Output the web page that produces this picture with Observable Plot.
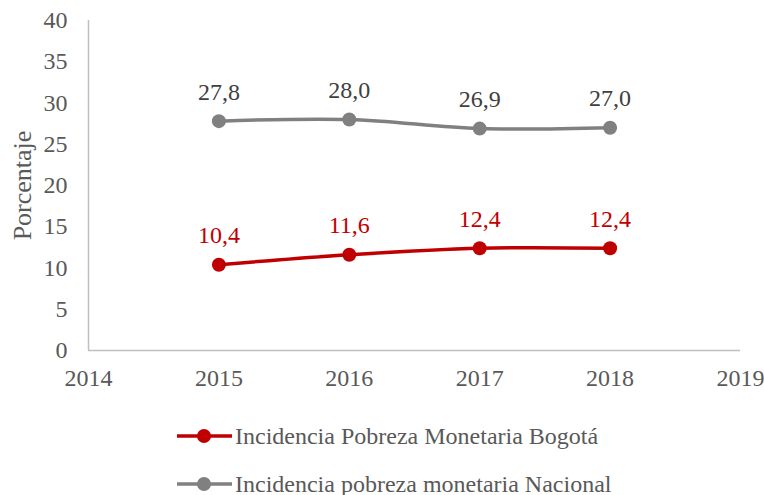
<!DOCTYPE html>
<html><head><meta charset="utf-8">
<script src="https://cdn.jsdelivr.net/npm/d3@7"></script>
<script src="https://cdn.jsdelivr.net/npm/@observablehq/plot@0.6"></script>
</head>
<body style="margin:0;background:#fff;font-family:'Liberation Serif'">
<div id="chart" style="position:relative;width:764px;height:495px;overflow:hidden;font-family:'Liberation Serif'"></div>
<script>
const years = [2015, 2016, 2017, 2018];
const bogota = [10.4, 11.6, 12.4, 12.4];
const nacional = [27.8, 28.0, 26.9, 27.0];
const seriesNames = ["Incidencia Pobreza Monetaria Bogotá", "Incidencia pobreza monetaria Nacional"];
const seriesColors = ["#C00000", "#808080"];
const labelColors = ["#C00000", "#404040"];
const yTicks = [0, 5, 10, 15, 20, 25, 30, 35, 40];
const xTicks = [2014, 2015, 2016, 2017, 2018, 2019];
const yLabel = "Porcentaje";

const fmt = v => v.toFixed(1).replace(".", ",");
const rows = [];
[bogota, nacional].forEach((vals, s) => vals.forEach((v, i) => rows.push({year: years[i], value: v, s})));

const chart = Plot.plot({
  width: 764, height: 410,
  marginLeft: 88, marginRight: 24, marginTop: 20, marginBottom: 60,
  style: {fontFamily: "Liberation Serif", fontSize: "24px", color: "#595959", background: "#fff", overflow: "visible"},
  x: {domain: [2014, 2019], ticks: xTicks, tickFormat: d => String(d)},
  y: {domain: [0, 40], ticks: yTicks},
  marks: [
    Plot.ruleY([0], {stroke: "#bfbfbf", strokeWidth: 1.5}),
    Plot.ruleX([2014], {stroke: "#bfbfbf", strokeWidth: 1.5}),
    Plot.axisX({ticks: xTicks, tickSize: 0, tickPadding: 18, tickFormat: d => String(d), label: null, fill: "#595959", fontSize: 24}),
    Plot.axisY({ticks: yTicks, tickSize: 0, tickPadding: 21, label: null, fill: "#595959", fontSize: 24}),
    Plot.text([yLabel], {frameAnchor: "left", textAnchor: "middle", dx: -66, rotate: -90, fill: "#595959", fontSize: 26}),
    Plot.line(rows, {x: "year", y: "value", z: "s", stroke: d => seriesColors[d.s], strokeWidth: 3.5, curve: "catmull-rom"}),
    Plot.dot(rows, {x: "year", y: "value", fill: d => seriesColors[d.s], r: 7, stroke: "none"}),
    Plot.text(rows, {x: "year", y: "value", text: d => fmt(d.value), fill: d => labelColors[d.s], dy: -29, fontSize: 24})
  ]
});
const root = document.getElementById("chart");
root.appendChild(chart);
chart.querySelectorAll("text").forEach(t => t.style.fontFamily = "'Liberation Serif'");

seriesNames.forEach((name, i) => {
  const div = document.createElement("div");
  div.style.cssText = "position:absolute;left:177px;display:flex;align-items:center;font-family:'Liberation Serif';font-size:24px;color:#595959;white-space:nowrap;top:" + (i === 0 ? 422 : 470) + "px";
  div.innerHTML = `<svg width="56" height="28" style="margin-right:2px"><line x1="0" y1="14" x2="55" y2="14" stroke="${seriesColors[i]}" stroke-width="3.5"/><circle cx="27" cy="14" r="7" fill="${seriesColors[i]}"/></svg><span>${name}</span>`;
  root.appendChild(div);
});
</script></body></html>
